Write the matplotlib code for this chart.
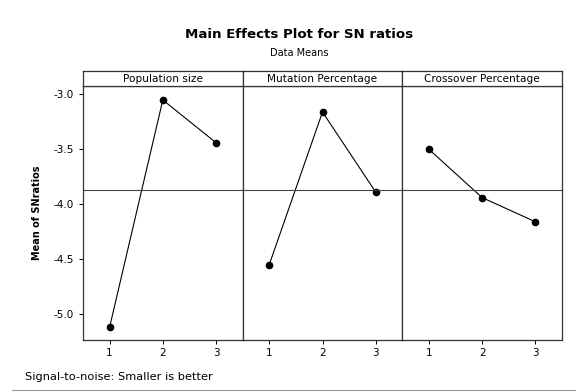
import matplotlib
matplotlib.use('Agg')
import matplotlib.pyplot as plt
from matplotlib.lines import Line2D

plt.rcParams['font.family'] = ['DejaVu Sans']

# data
factors = ["Population size", "Mutation Percentage", "Crossover Percentage"]
levels = [1, 2, 3]
pop_sn = [-5.12, -3.05, -3.44]
mut_sn = [-4.55, -3.16, -3.89]
cross_sn = [-3.50, -3.94, -4.16]
series = [pop_sn, mut_sn, cross_sn]
grand_mean = sum(pop_sn + mut_sn + cross_sn) / 9.0
yticks = [-3.0, -3.5, -4.0, -4.5, -5.0]

fig = plt.figure(figsize=(5.76, 3.92), dpi=100)

left, right = 83 / 576, 562 / 576
bottom, top = 1 - 340 / 392, 1 - 86 / 392
strip_h = 15 / 392
w = (right - left) / 3

for i, (name, vals) in enumerate(zip(factors, series)):
    ax = fig.add_axes([left + i * w, bottom, w, top - bottom])
    ax.plot(levels, vals, color='black', lw=0.8, marker='o', ms=4.5)
    ax.axhline(grand_mean, color='#444444', lw=0.8)
    ax.set_xlim(0.5, 3.5)
    ax.set_ylim(-5.237, -2.923)
    ax.set_xticks(levels)
    ax.tick_params(axis='x', labelsize=7.5, length=3, width=0.7, pad=3)
    if i == 0:
        ax.set_yticks(yticks)
        ax.set_yticklabels(["%.1f" % v for v in yticks])
        ax.tick_params(axis='y', labelsize=7.5, length=3, width=0.7)
        ax.set_ylabel("Mean of SNratios", fontsize=7, fontweight='bold', labelpad=8)
    else:
        ax.set_yticks([])
    for s in ax.spines.values():
        s.set_linewidth(0.9)
        s.set_color('#333333')

    # panel header strip
    sax = fig.add_axes([left + i * w, top, w, strip_h])
    sax.set_xticks([])
    sax.set_yticks([])
    for s in sax.spines.values():
        s.set_linewidth(0.9)
        s.set_color('#333333')
    sax.text(0.5, 0.5, name, ha='center', va='center', fontsize=7.6, transform=sax.transAxes)

fig.text(299 / 576, 1 - 35 / 392, "Main Effects Plot for SN ratios",
         ha='center', va='center', fontsize=9.6, fontweight='bold')
fig.text(299 / 576, 1 - 53 / 392, "Data Means", ha='center', va='center', fontsize=7)
fig.text(25 / 576, 1 - 377 / 392, "Signal-to-noise: Smaller is better",
         ha='left', va='center', fontsize=8.2)
fig.add_artist(Line2D([12 / 576, 1.0], [1 - 390 / 392, 1 - 390 / 392],
                      color='#999999', lw=0.8, transform=fig.transFigure))

fig.savefig("out.png", dpi=100)
